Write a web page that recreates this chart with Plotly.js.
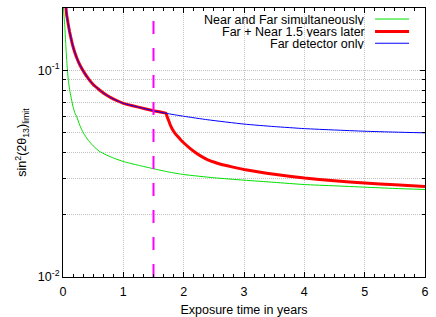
<!DOCTYPE html>
<html>
<head>
<meta charset="utf-8">
<script src="https://cdn.plot.ly/plotly-3.0.1.min.js"></script>
<style>html,body{margin:0;padding:0;background:#fff;}#chart{width:436px;height:317px;}</style>
</head>
<body>
<div id="chart"></div>
<script>
// Near and Far simultaneously (green)
const simT = [0.004, 0.008, 0.02, 0.03, 0.045, 0.06, 0.075, 0.09, 0.115, 0.144, 0.17, 0.2, 0.227, 0.28, 0.337, 0.42, 0.5, 0.6, 0.72, 0.85, 1.0, 1.25, 1.5, 1.75, 2.0, 2.5, 3.0, 3.5, 4.0, 4.5, 5.0, 5.5, 6.0];
const simY = [0.22, 0.2, 0.178, 0.163, 0.135, 0.113, 0.099, 0.0885, 0.079, 0.0715, 0.066, 0.0618, 0.0597, 0.054, 0.0498, 0.0458, 0.0431, 0.0406, 0.0389, 0.0375, 0.0362, 0.0347, 0.0334, 0.0322, 0.0313, 0.0302, 0.0294, 0.0287, 0.0280, 0.0276, 0.0272, 0.0268, 0.0265];

// Far + Near 1.5 years later (red)
const lateT = [0.04, 0.05, 0.06, 0.075, 0.088, 0.11, 0.144, 0.18, 0.227, 0.28, 0.337, 0.42, 0.5, 0.6, 0.7, 0.8, 0.917, 1.0, 1.25, 1.5, 1.708, 1.725, 1.747, 1.77, 1.8, 1.83, 1.86, 1.9, 1.95, 2.0, 2.1, 2.2, 2.3, 2.4, 2.5, 2.6, 2.8, 3.0, 3.25, 3.5, 4.0, 4.5, 5.0, 5.5, 6.0];
const lateY = [0.225, 0.2, 0.186, 0.175, 0.166, 0.153, 0.138, 0.126, 0.115, 0.106, 0.099, 0.091, 0.0853, 0.0805, 0.0765, 0.0735, 0.0708, 0.0692, 0.0663, 0.0637, 0.0619, 0.0597, 0.0575, 0.0551, 0.0527, 0.0508, 0.0494, 0.0479, 0.0461, 0.0446, 0.0420, 0.0399, 0.0382, 0.0369, 0.0360, 0.0352, 0.0341, 0.0331, 0.0322, 0.0314, 0.0301, 0.0292, 0.0285, 0.0279, 0.0274];

// Far detector only (blue)
const farT = [0.04, 0.05, 0.06, 0.075, 0.088, 0.11, 0.144, 0.18, 0.227, 0.28, 0.337, 0.42, 0.5, 0.6, 0.7, 0.8, 0.917, 1.0, 1.25, 1.5, 1.708, 2.0, 2.4, 3.0, 3.5, 4.0, 4.5, 5.0, 5.5, 6.0];
const farY = [0.225, 0.2, 0.186, 0.175, 0.166, 0.153, 0.138, 0.126, 0.115, 0.106, 0.099, 0.091, 0.0853, 0.0805, 0.0765, 0.0735, 0.0708, 0.0692, 0.0663, 0.0637, 0.0619, 0.0599, 0.0576, 0.0549, 0.0534, 0.0522, 0.0514, 0.0507, 0.0502, 0.0498];

// Near detector start time (magenta dashed marker)
const nearStart = 1.5;
const yLimits = [0.01, 0.2];

const seriesNames = ["Near and Far simultaneously", "Far + Near 1.5 years later", "Far detector only"];
const seriesColors = ["#00e000", "#ff0000", "#0000ff"];
const seriesWidths = [1, 3, 1];

const xTickVals = [0, 1, 2, 3, 4, 5, 6];
const yTickVals = [0.01, 0.1];
const yTickText = ["10<sup>-2</sup>", "10<sup>-1</sup>"];
const yMinorVals = [0.02, 0.03, 0.04, 0.05, 0.06, 0.07, 0.08, 0.09, 0.2];

const FONT = "Liberation Sans, Arial, Helvetica, sans-serif";
const FS = 12.5;
const GRID = "#c2c2c2";
const GDASH = "1px,1px";

const traces = [
  {x: simT, y: simY, name: seriesNames[0], mode: "lines", line: {color: seriesColors[0], width: seriesWidths[0], shape: "spline", smoothing: 0.5}},
  {x: lateT, y: lateY, name: seriesNames[1], mode: "lines", line: {color: seriesColors[1], width: seriesWidths[1], shape: "spline", smoothing: 0.35}},
  {x: farT, y: farY, name: seriesNames[2], mode: "lines", line: {color: seriesColors[2], width: seriesWidths[2], shape: "spline", smoothing: 0.5}},
  {x: [nearStart, nearStart], y: yLimits, mode: "lines", showlegend: false, hoverinfo: "skip",
   line: {color: "#ff00ff", width: 2, dash: "13px,14px"}}
];

// custom legend (gnuplot style: text right-aligned, sample on the right)
const legY = [0.959, 0.913, 0.869];
const annotations = [];
const shapes = [];
for (let i = 0; i < 3; i++) {
  annotations.push({xref: "paper", yref: "paper", x: 0.838, y: legY[i], xanchor: "right", yanchor: "middle",
    text: seriesNames[i], showarrow: false, height: 11, borderpad: 0,
    font: {family: FONT, size: FS, color: "#000"}});
  shapes.push({type: "line", xref: "paper", yref: "paper", x0: 0.862, x1: 0.956, y0: legY[i], y1: legY[i],
    line: {color: seriesColors[i], width: seriesWidths[i]}});
}

const layout = {
  width: 436, height: 317,
  margin: {l: 63, r: 11, t: 8, b: 40},
  paper_bgcolor: "#fff", plot_bgcolor: "#fff",
  showlegend: false,
  font: {family: FONT, size: FS, color: "#000"},
  xaxis: {
    range: [0, 6], tickmode: "array", tickvals: xTickVals, ticktext: xTickVals.map(String),
    ticks: "inside", ticklen: 5, tickcolor: "#000", tickwidth: 1,
    showline: true, linecolor: "#000", linewidth: 1, mirror: "ticks",
    showgrid: true, gridcolor: GRID, griddash: GDASH, gridwidth: 1,
    zeroline: false, ticklabelstandoff: 3,
    minor: {dtick: 1/6, tick0: 0, ticks: "inside", ticklen: 3, tickcolor: "#000", showgrid: false},
    title: {text: "Exposure time in years", font: {family: FONT, size: FS}, standoff: 9},
    tickfont: {family: FONT, size: FS}
  },
  yaxis: {
    type: "log", range: [Math.log10(yLimits[0]), Math.log10(yLimits[1])],
    tickmode: "array", tickvals: yTickVals, ticktext: yTickText,
    ticks: "inside", ticklen: 5, tickcolor: "#000", tickwidth: 1,
    showline: true, linecolor: "#000", linewidth: 1, mirror: "ticks",
    showgrid: true, gridcolor: GRID, griddash: GDASH, gridwidth: 1,
    zeroline: false,
    minor: {tickmode: "array", tickvals: yMinorVals, ticks: "inside", ticklen: 3, tickcolor: "#000",
            showgrid: true, gridcolor: GRID, griddash: GDASH, gridwidth: 1},
    title: {text: "sin<sup>2</sup>(2θ<sub>13</sub>)<sub>limit</sub>", font: {family: FONT, size: FS}, standoff: 8},
    tickfont: {family: FONT, size: FS}
  },
  annotations: annotations,
  shapes: shapes
};

Plotly.newPlot("chart", traces, layout, {staticPlot: true, displayModeBar: false});
</script>
</body>
</html>
